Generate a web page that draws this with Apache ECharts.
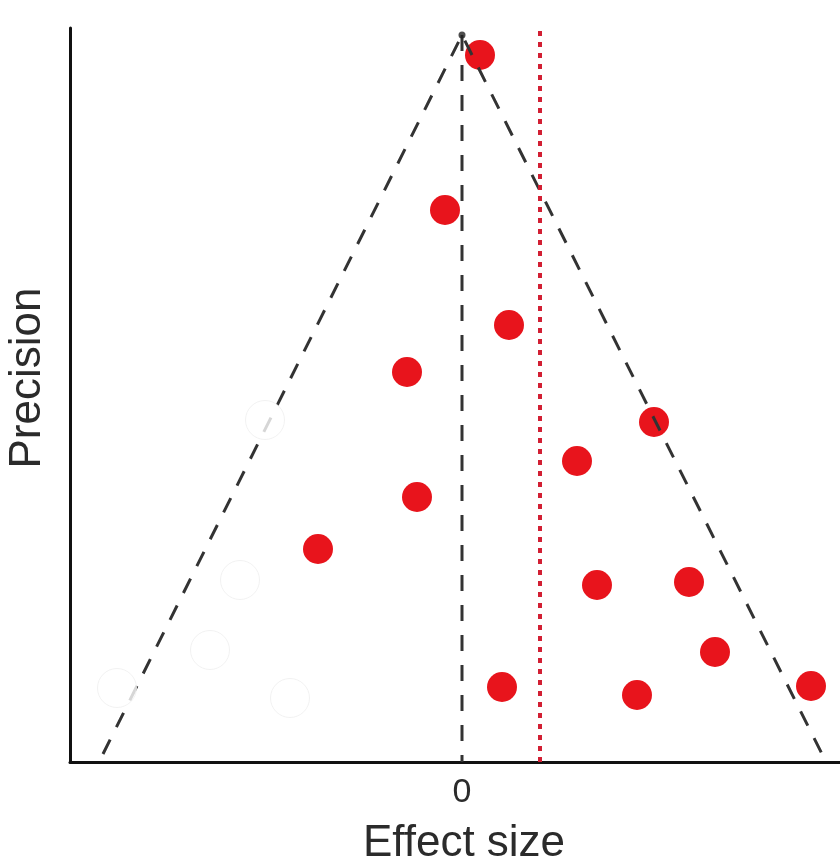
<!DOCTYPE html>
<html>
<head>
<meta charset="utf-8">
<script src="https://cdn.jsdelivr.net/npm/echarts@6/dist/echarts.min.js"></script>
<style>html,body{margin:0;padding:0;background:#fff}#chart{width:840px;height:867px}</style>
</head>
<body>
<div id="chart"></div>
<script>
// Observed studies (effect size, precision)
const observedStudies = [
  [0.18, 7.07], [-0.17, 5.52], [0.47, 4.37], [-0.55, 3.90], [1.92, 3.40],
  [1.15, 3.01], [-0.45, 2.65], [-1.44, 2.13], [1.35, 1.77], [2.27, 1.80],
  [2.53, 1.10], [0.40, 0.75], [1.75, 0.67], [3.49, 0.76]
];
// Imputed (missing) studies
const imputedStudies = [
  [-1.97, 3.42], [-2.22, 1.82], [-2.52, 1.12], [-3.45, 0.74], [-1.72, 0.64]
];
// Funnel outline: left bottom, apex, right bottom
const funnelLines = [[-3.59, 0.08], [0, 7.27], [3.60, 0.08]];
const nullLine = [[0, 7.27], [0, 0]];
const pooledEffect = 0.78;
const pooledLine = [[pooledEffect, 0], [pooledEffect, 7.34]];
const xTicks = [0];

const chart = echarts.init(document.getElementById('chart'));
const fontFam = 'Liberation Sans, Arial, sans-serif';
chart.setOption({
  animation: false,
  backgroundColor: '#fff',
  grid: { left: 70, right: 0, top: 28, bottom: 105, containLabel: false, outerBoundsMode: 'none' },
  xAxis: {
    type: 'value', min: -3.92, max: 3.78,
    name: 'Effect size', nameLocation: 'middle', nameGap: 60,
    nameTextStyle: { fontSize: 44, color: '#2b2b2b', fontFamily: fontFam, padding: [0, 0, 0, 18] },
    axisLine: { show: true, onZero: false, lineStyle: { color: '#111', width: 3 } },
    axisTick: { show: true, inside: true, length: 6, customValues: xTicks, lineStyle: { color: '#111', width: 2 } },
    axisLabel: { show: true, customValues: xTicks, fontSize: 34, color: '#2b2b2b', margin: 14, fontFamily: fontFam },
    splitLine: { show: false }
  },
  yAxis: {
    type: 'value', min: 0, max: 7.34,
    name: 'Precision', nameLocation: 'middle', nameGap: 20, nameRotate: 90,
    nameTextStyle: { fontSize: 44, color: '#2b2b2b', fontFamily: fontFam, padding: [0, 0, 0, 34] },
    axisLine: { show: true, onZero: false, lineStyle: { color: '#111', width: 3 } },
    axisTick: { show: false },
    axisLabel: { show: false },
    splitLine: { show: false }
  },
  series: [
    {
      type: 'scatter', data: observedStudies, symbolSize: 30, z: 1,
      itemStyle: { color: '#e8141c', opacity: 1 }
    },
    {
      type: 'line', data: funnelLines, symbol: 'none', z: 2,
      lineStyle: { color: '#333', width: 3, type: [16, 14] }
    },
    {
      type: 'line', data: nullLine, symbol: 'none', z: 2,
      lineStyle: { color: '#333', width: 3, type: [16, 14] }
    },
    {
      type: 'line', data: pooledLine, symbol: 'none', z: 2,
      lineStyle: { color: '#d21f33', width: 4, type: [5, 6] }
    },
    {
      type: 'scatter', data: [[0, 7.27]], symbolSize: 7, z: 3,
      itemStyle: { color: '#222' }
    },
    {
      type: 'scatter', data: imputedStudies, symbolSize: 39, z: 4,
      itemStyle: { color: '#fff', borderColor: '#efefef', borderWidth: 1 }
    }
  ]
});
</script>
</body>
</html>
